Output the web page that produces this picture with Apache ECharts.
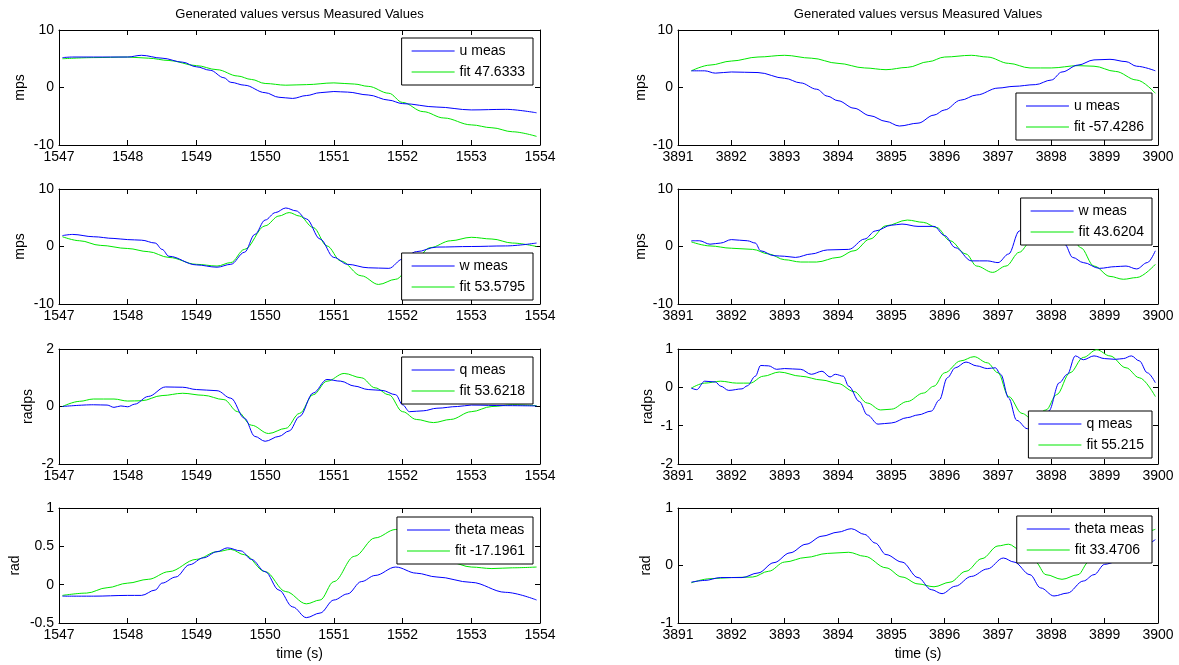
<!DOCTYPE html>
<html>
<head>
<meta charset="utf-8">
<title>Generated values versus Measured Values</title>
<script src="https://cdn.jsdelivr.net/npm/echarts@6/dist/echarts.min.js"></script>
</head>
<body style="margin:0;background:#fff">
<div id="main" style="width:1179px;height:665px;"></div>
<script type="text/javascript">

// [time (s), value] pairs
var uMeasL = [[1547.05,5.2],[1547.2,5.3],[1547.5,5.3],[1548,5.3],[1548.2,5.6],[1548.5,5.1],[1548.8,4.4],[1549,3.6],[1549.2,3.0],[1549.4,1.7],[1549.5,0.9],[1549.7,0.4],[1550,-0.9],[1550.2,-1.7],[1550.4,-1.9],[1550.6,-1.4],[1550.8,-0.9],[1551,-0.7],[1551.2,-0.8],[1551.5,-1.3],[1551.8,-2.2],[1552,-2.8],[1552.5,-3.4],[1553,-3.9],[1553.5,-3.8],[1553.95,-4.4]];
var uFitL = [[1547.05,5.0],[1547.5,5.2],[1548,5.3],[1548.3,5.1],[1548.6,4.7],[1549,3.8],[1549.3,3.1],[1549.6,2.0],[1549.8,1.4],[1550,0.7],[1550.3,0.4],[1550.6,0.5],[1551,0.8],[1551.3,0.6],[1551.5,0.2],[1551.8,-1.0],[1552,-2.6],[1552.3,-4.2],[1552.6,-5.3],[1553,-6.5],[1553.3,-7.0],[1553.6,-7.7],[1553.95,-8.5]];
var uMeasR = [[3891.25,2.9],[3891.5,2.9],[3891.7,2.5],[3892,2.7],[3892.5,2.6],[3893,1.6],[3893.3,0.8],[3893.6,-0.3],[3893.8,-1.5],[3894,-2.3],[3894.3,-3.6],[3894.6,-4.9],[3894.9,-5.9],[3895.15,-6.7],[3895.5,-6.2],[3895.8,-4.8],[3896,-3.9],[3896.3,-2.2],[3896.6,-1.3],[3897,-0.1],[3897.3,0.2],[3897.7,0.5],[3898,1.3],[3898.2,2.7],[3898.5,3.9],[3898.8,4.8],[3899.1,4.9],[3899.4,4.5],[3899.6,3.7],[3899.95,2.9]];
var uFitR = [[3891.25,2.9],[3891.6,3.9],[3892,4.6],[3892.5,5.3],[3893,5.6],[3893.5,5.1],[3894,4.2],[3894.5,3.4],[3894.9,3.1],[3895.3,3.5],[3895.7,4.5],[3896,5.3],[3896.5,5.6],[3896.8,5.3],[3897.2,4.2],[3897.6,3.4],[3898,3.4],[3898.5,3.8],[3898.8,3.7],[3899.2,2.8],[3899.6,1.3],[3899.95,-1.0]];

var wMeasL = [[1547.05,1.9],[1547.2,2.1],[1547.5,1.7],[1547.8,1.4],[1548,1.2],[1548.2,1.1],[1548.4,0.6],[1548.5,-0.5],[1548.6,-1.7],[1549,-3.2],[1549.3,-3.6],[1549.5,-3.1],[1549.7,-1.0],[1549.85,2.1],[1550,4.6],[1550.15,5.9],[1550.3,6.7],[1550.45,6.2],[1550.6,4.8],[1550.8,1.3],[1551,-1.9],[1551.2,-3.1],[1551.5,-3.7],[1551.8,-3.8],[1552,-2.2],[1552.2,-0.9],[1552.5,-0.1],[1553,0],[1553.5,0.1],[1553.95,0.6]];
var wFitL = [[1547.05,1.7],[1547.3,1.0],[1547.6,0.2],[1548,-0.35],[1548.3,-0.9],[1548.6,-1.9],[1549,-3.1],[1549.3,-3.4],[1549.5,-2.8],[1549.7,-0.5],[1550,3.6],[1550.2,5.3],[1550.35,5.9],[1550.5,5.3],[1550.7,3.3],[1550.9,0.1],[1551.1,-2.5],[1551.4,-5.1],[1551.65,-6.6],[1551.9,-5.7],[1552.1,-3.9],[1552.4,-0.2],[1552.7,1.0],[1553,1.6],[1553.3,1.3],[1553.6,0.6],[1553.95,0]];
var wMeasR = [[3891.25,1.0],[3891.4,1.0],[3891.6,0.4],[3891.8,0.6],[3892,1.2],[3892.3,1.0],[3892.45,0.6],[3892.55,-0.75],[3892.8,-1.6],[3893,-1.7],[3893.2,-1.9],[3893.5,-1.3],[3893.8,-0.6],[3894.2,-0.5],[3894.5,1.3],[3894.7,2.7],[3895,3.7],[3895.2,3.9],[3895.5,3.5],[3895.8,3.5],[3896,1.9],[3896.2,-0.2],[3896.5,-2.5],[3896.8,-2.5],[3897,-2.8],[3897.2,-1.3],[3897.4,2.7],[3897.6,3.9],[3897.85,4.8],[3898.1,3.5],[3898.25,0.4],[3898.4,-1.9],[3898.6,-2.8],[3898.9,-3.8],[3899.2,-3.5],[3899.4,-3.4],[3899.6,-3.9],[3899.8,-2.8],[3899.95,-0.75]];
var wFitR = [[3891.25,0.8],[3891.6,0.1],[3892,-0.3],[3892.4,-0.5],[3892.7,-1.3],[3893,-2.3],[3893.3,-2.7],[3893.6,-2.7],[3894,-1.9],[3894.3,-0.75],[3894.6,1.3],[3894.9,3.6],[3895.3,4.6],[3895.6,4.2],[3895.85,3.3],[3896.1,1.0],[3896.4,-1.3],[3896.6,-3.4],[3896.9,-4.5],[3897.15,-3.4],[3897.4,-1.0],[3897.6,0.7],[3897.9,3.0],[3898.2,3.3],[3898.4,1.5],[3898.55,-0.2],[3898.8,-3.4],[3899.1,-5.2],[3899.35,-5.7],[3899.6,-5.4],[3899.95,-3.1]];

var qMeasL = [[1547.05,0],[1547.5,0.06],[1547.7,0.05],[1547.8,-0.03],[1547.9,0.02],[1548,-0.01],[1548.1,0.08],[1548.3,0.35],[1548.55,0.68],[1548.8,0.67],[1549,0.59],[1549.3,0.55],[1549.5,0.29],[1549.7,-0.41],[1549.85,-1.04],[1550,-1.21],[1550.2,-1.04],[1550.35,-0.85],[1550.5,-0.35],[1550.7,0.47],[1550.9,0.94],[1551.1,0.88],[1551.3,0.71],[1551.5,0.59],[1551.7,0.56],[1551.9,0.41],[1552,0.06],[1552.1,-0.18],[1552.3,-0.15],[1552.5,-0.06],[1552.8,0],[1553,0.05],[1553.5,0.03],[1553.95,0.02]];
var qFitL = [[1547.05,0],[1547.3,0.18],[1547.5,0.26],[1547.8,0.26],[1548,0.19],[1548.2,0.2],[1548.5,0.38],[1548.8,0.46],[1549.1,0.39],[1549.4,0.24],[1549.6,-0.18],[1549.8,-0.65],[1550.05,-0.94],[1550.3,-0.76],[1550.5,-0.24],[1550.7,0.41],[1550.9,0.88],[1551.15,1.15],[1551.4,1.0],[1551.6,0.65],[1551.8,0.41],[1552,-0.18],[1552.2,-0.45],[1552.45,-0.56],[1552.7,-0.45],[1553,-0.18],[1553.3,0],[1553.6,0.06],[1553.95,0.03]];
var qMeasR = [[3891.25,-0.02],[3891.35,-0.06],[3891.5,0.16],[3891.7,0.14],[3891.8,0.03],[3891.95,-0.08],[3892.2,-0.04],[3892.3,0.04],[3892.45,0.29],[3892.55,0.57],[3892.7,0.56],[3892.85,0.47],[3893,0.49],[3893.3,0.47],[3893.5,0.34],[3893.7,0.42],[3893.85,0.27],[3893.95,0.34],[3894.1,0.29],[3894.2,0.03],[3894.4,-0.37],[3894.55,-0.72],[3894.75,-0.96],[3895,-0.93],[3895.3,-0.79],[3895.5,-0.72],[3895.75,-0.62],[3895.9,-0.33],[3896.05,0.25],[3896.2,0.51],[3896.4,0.66],[3896.6,0.56],[3896.8,0.49],[3896.95,0.51],[3897.05,0.34],[3897.2,-0.28],[3897.35,-0.86],[3897.55,-1.08],[3897.7,-0.99],[3897.95,-0.62],[3898.15,0.12],[3898.3,0.34],[3898.45,0.82],[3898.6,0.72],[3898.8,0.82],[3899,0.75],[3899.2,0.73],[3899.35,0.75],[3899.5,0.82],[3899.65,0.69],[3899.8,0.38],[3899.95,0.12]];
var qFitR = [[3891.25,-0.02],[3891.5,0.11],[3891.8,0.16],[3892.1,0.11],[3892.35,0.11],[3892.6,0.29],[3892.9,0.4],[3893.3,0.29],[3893.7,0.19],[3894,0.1],[3894.3,-0.11],[3894.55,-0.41],[3894.8,-0.59],[3895,-0.57],[3895.3,-0.37],[3895.6,-0.15],[3895.8,0.03],[3896,0.38],[3896.3,0.69],[3896.55,0.8],[3896.8,0.64],[3897,0.38],[3897.2,-0.24],[3897.45,-0.68],[3897.65,-0.84],[3897.9,-0.59],[3898.1,-0.19],[3898.35,0.38],[3898.6,0.78],[3898.85,0.98],[3899.1,0.82],[3899.4,0.51],[3899.65,0.25],[3899.95,-0.24]];

var thMeasL = [[1547.05,-0.15],[1547.5,-0.15],[1548,-0.14],[1548.2,-0.14],[1548.4,-0.07],[1548.5,0.02],[1548.7,0.1],[1548.9,0.26],[1549.1,0.35],[1549.3,0.43],[1549.45,0.48],[1549.65,0.44],[1549.8,0.33],[1550,0.17],[1550.2,-0.07],[1550.4,-0.29],[1550.6,-0.43],[1550.8,-0.37],[1551,-0.2],[1551.2,-0.12],[1551.4,0.04],[1551.6,0.12],[1551.9,0.23],[1552.2,0.15],[1552.5,0.1],[1553,0.03],[1553.5,-0.1],[1553.95,-0.2]];
var thFitL = [[1547.05,-0.14],[1547.4,-0.11],[1547.7,-0.04],[1548,0.02],[1548.3,0.07],[1548.6,0.17],[1549,0.33],[1549.3,0.43],[1549.5,0.46],[1549.7,0.39],[1550,0.17],[1550.3,-0.09],[1550.6,-0.25],[1550.8,-0.2],[1551,0.04],[1551.3,0.37],[1551.6,0.61],[1551.9,0.72],[1552.2,0.68],[1552.5,0.45],[1552.7,0.29],[1553,0.23],[1553.3,0.21],[1553.6,0.22],[1553.95,0.23]];
var thMeasR = [[3891.25,-0.29],[3891.5,-0.26],[3891.8,-0.21],[3892.2,-0.21],[3892.5,-0.13],[3892.8,0.05],[3893.1,0.22],[3893.4,0.37],[3893.7,0.51],[3894,0.58],[3894.25,0.64],[3894.5,0.54],[3894.7,0.39],[3894.9,0.19],[3895.2,0.06],[3895.5,-0.21],[3895.75,-0.42],[3895.95,-0.49],[3896.2,-0.36],[3896.5,-0.19],[3896.8,-0.06],[3897.1,0.13],[3897.3,0.06],[3897.6,-0.16],[3897.8,-0.39],[3898.05,-0.53],[3898.3,-0.48],[3898.6,-0.27],[3898.8,-0.16],[3899,0.02],[3899.2,0.06],[3899.5,0.25],[3899.95,0.45]];
var thFitR = [[3891.25,-0.3],[3891.6,-0.23],[3892,-0.21],[3892.4,-0.2],[3892.7,-0.1],[3893,0.06],[3893.4,0.14],[3893.8,0.21],[3894.2,0.23],[3894.5,0.16],[3894.9,-0.04],[3895.2,-0.2],[3895.5,-0.32],[3895.8,-0.37],[3896.1,-0.29],[3896.4,-0.1],[3896.7,0.12],[3897,0.34],[3897.2,0.37],[3897.4,0.28],[3897.7,0.06],[3897.9,-0.16],[3898.2,-0.24],[3898.5,-0.16],[3898.7,0.06],[3899.2,0.35],[3899.6,0.55],[3899.95,0.63]];

var titleText = 'Generated values versus Measured Values';
var xName = 'time (s)';

var FONT = '"Liberation Sans", Arial, sans-serif';
var FS = 14;
var BLUE = '#0000ff', GREEN = '#00e800';

// one entry per subplot
var panels = [
  { col: 0, row: 0, x: [1547, 1554], y: [-10, 10, 10], yName: 'mps',   gap: 32, meas: uMeasL,  fit: uFitL,  names: ['u meas', 'fit 47.6333'],      legTop: 38 },
  { col: 1, row: 0, x: [3891, 3900], y: [-10, 10, 10], yName: 'mps',   gap: 30, meas: uMeasR,  fit: uFitR,  names: ['u meas', 'fit -57.4286'],     legTop: 93 },
  { col: 0, row: 1, x: [1547, 1554], y: [-10, 10, 10], yName: 'mps',   gap: 32, meas: wMeasL,  fit: wFitL,  names: ['w meas', 'fit 53.5795'],      legTop: 253 },
  { col: 1, row: 1, x: [3891, 3900], y: [-10, 10, 10], yName: 'mps',   gap: 30, meas: wMeasR,  fit: wFitR,  names: ['w meas', 'fit 43.6204'],      legTop: 198 },
  { col: 0, row: 2, x: [1547, 1554], y: [-2, 2, 2],    yName: 'radps', gap: 24, meas: qMeasL,  fit: qFitL,  names: ['q meas', 'fit 53.6218'],      legTop: 357 },
  { col: 1, row: 2, x: [3891, 3900], y: [-2, 1, 1],    yName: 'radps', gap: 23, meas: qMeasR,  fit: qFitR,  names: ['q meas', 'fit 55.215'],       legTop: 411 },
  { col: 0, row: 3, x: [1547, 1554], y: [-0.5, 1, 0.5],yName: 'rad',   gap: 37, meas: thMeasL, fit: thFitL, names: ['theta meas', 'fit -17.1961'], legTop: 517 },
  { col: 1, row: 3, x: [3891, 3900], y: [-1, 1, 1],    yName: 'rad',   gap: 25, meas: thMeasR, fit: thFitR, names: ['theta meas', 'fit 33.4706'],  legTop: 516 }
];

var colLeft = [59, 678], colWidth = [481, 480];
var rowTop = [30, 189, 349, 508], rowHeight = 115;
var legRight = [646, 27];

var grids = [], xAxes = [], yAxes = [], series = [], legends = [];

function plainNum(v) { return String(v); }

function axisBase(gi) {
  return {
    gridIndex: gi, type: 'value',
    axisLine: { onZero: false, lineStyle: { color: '#000', width: 1 } },
    axisTick: { inside: true, length: 5, lineStyle: { color: '#000' } },
    axisLabel: { color: '#000', fontSize: FS, fontFamily: FONT, margin: 5, formatter: plainNum },
    splitLine: { show: false }
  };
}

panels.forEach(function (p, i) {
  grids.push({ left: colLeft[p.col], top: rowTop[p.row], width: colWidth[p.col], height: rowHeight,
               containLabel: false, outerBoundsMode: 'none' });

  var xa = axisBase(i);
  xa.position = 'bottom';
  xa.min = p.x[0]; xa.max = p.x[1]; xa.interval = 1;
  if (p.row === 3) {
    xa.name = xName; xa.nameLocation = 'middle'; xa.nameGap = 24;
    xa.nameTextStyle = { color: '#000', fontSize: FS, fontFamily: FONT };
  }
  xAxes.push(xa);

  var ya = axisBase(i);
  ya.position = 'left';
  ya.min = p.y[0]; ya.max = p.y[1]; ya.interval = p.y[2];
  ya.name = p.yName; ya.nameLocation = 'middle'; ya.nameGap = p.gap;
  ya.nameTextStyle = { color: '#000', fontSize: FS, fontFamily: FONT };
  yAxes.push(ya);

  series.push({ name: p.names[0], type: 'line', xAxisIndex: i, yAxisIndex: i, data: p.meas,
                symbol: 'none', smooth: 0.35, smoothMonotone: 'x',
                lineStyle: { color: BLUE, width: 1 }, itemStyle: { color: BLUE }, z: 3 });
  series.push({ name: p.names[1], type: 'line', xAxisIndex: i, yAxisIndex: i, data: p.fit,
                symbol: 'none', smooth: 0.35, smoothMonotone: 'x',
                lineStyle: { color: GREEN, width: 1 }, itemStyle: { color: GREEN }, z: 2 });

  legends.push({
    data: p.names, orient: 'vertical', right: legRight[p.col], top: p.legTop,
    backgroundColor: '#fff', borderColor: '#000', borderWidth: 1,
    padding: [6, 8, 6, 10], itemWidth: 43, itemHeight: 1, itemGap: 7,
    icon: 'rect', selectedMode: false, z: 10,
    textStyle: { color: '#000', fontSize: FS, fontFamily: FONT }
  });
});

// frame: top and right axes, ticks only
panels.forEach(function (p, i) {
  var xt = axisBase(i);
  xt.position = 'top';
  xt.min = p.x[0]; xt.max = p.x[1]; xt.interval = 1;
  xt.axisLabel = { show: false };
  xAxes.push(xt);
  var yr = axisBase(i);
  yr.position = 'right';
  yr.min = p.y[0]; yr.max = p.y[1]; yr.interval = p.y[2];
  yr.axisLabel = { show: false };
  yAxes.push(yr);
});

var myChart = echarts.init(document.getElementById('main'));
myChart.setOption({
  backgroundColor: '#fff',
  animation: false,
  grid: grids,
  xAxis: xAxes,
  yAxis: yAxes,
  legend: legends,
  graphic: [0, 1].map(function (c) {
    return { type: 'text', x: colLeft[c] + colWidth[c] / 2, y: 14,
             style: { text: titleText, fill: '#000', font: '13px ' + FONT, align: 'center', verticalAlign: 'middle' } };
  }),
  series: series
});
</script>
</body>
</html>
